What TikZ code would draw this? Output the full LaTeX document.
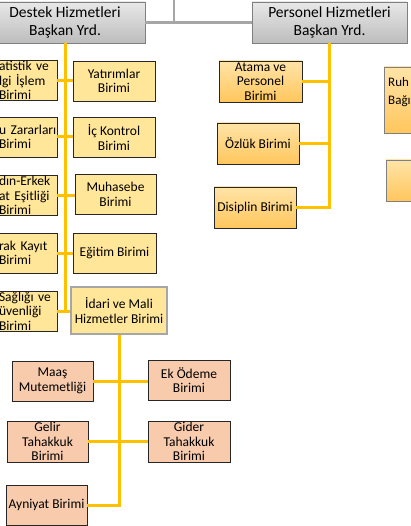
\documentclass[tikz,border=0pt]{standalone}
\usepackage{fontspec}
\setmainfont{Carlito}
\definecolor{destekfill}{HTML}{FFE699}
\definecolor{ptop}{HTML}{FFE4A8}
\definecolor{pbot}{HTML}{FFC65C}
\definecolor{maasfill}{HTML}{F8CBAD}
\definecolor{altin}{HTML}{FFC000}
\definecolor{gricizgi}{HTML}{A6A6A6}
\begin{document}
\begin{tikzpicture}[x=1pt,y=-1pt]

\useasboundingbox (0,0) rectangle (411,526);

\tikzset{%
  baskan/.style={draw=black!50,line width=0.8pt,top color=black!9,bottom color=black!26,
    minimum height=41pt,inner sep=0pt,align=center,font=\fontsize{15.5}{18}\selectfont},
  birim/.style={draw=black!85,line width=0.8pt,inner sep=0pt,minimum height=40pt,
    align=center,font=\fontsize{13.5}{14.5}\selectfont},
  sari/.style={birim,fill=destekfill},
  kesik/.style={sari,minimum width=58pt,text width=58pt,align=left},
  turuncu/.style={birim,top color=ptop,bottom color=pbot,minimum height=41pt},
  pembe/.style={birim,fill=maasfill},
  gri/.style={draw=gricizgi,line width=2.2pt},
  sarihat/.style={draw=altin,line width=3pt},
}

% baskan yardimcilari
\node[baskan,minimum width=160pt] (destek) at (65,22.5) {Destek Hizmetleri\\Başkan Yrd.};
\node[baskan,minimum width=155pt] (personel) at (329.5,22.5) {Personel Hizmetleri\\Başkan Yrd.};

\coordinate (ust) at (174,-3);
\draw[gri] (destek.east) -- (personel.west);
\draw[gri] (ust) -- (ust |- destek.east);

% destek hizmetleri
\node[kesik] (istatistik) at (28,80.5) {atistik ve\\lgi İşlem\\Birimi};
\node[kesik] (zarar) at (28,137) {u Zararları\\Birimi};
\node[kesik] (firsat) at (28,195.5) {dın-Erkek\\at Eşitliği\\Birimi};
\node[kesik] (evrak) at (28,253) {rak Kayıt\\Birimi};
\node[kesik] (isg) at (28,311) {Sağlığı ve\\üvenliği\\Birimi};

\node[sari,minimum width=82pt] (yatirim) at (114,81) {Yatırımlar\\Birimi};
\node[sari,minimum width=82pt] (ickontrol) at (114,137.5) {İç Kontrol\\Birimi};
\node[sari,minimum width=81pt] (muhasebe) at (115.5,194.5) {Muhasebe\\Birimi};
\node[sari,minimum width=83pt] (egitim) at (114.5,253) {Eğitim Birimi};
\node[sari,draw=black!35,line width=1.5pt,minimum width=96pt,minimum height=47pt] (idari) at (119,310.5) {İdari ve Mali\\Hizmetler Birimi};

\draw[sarihat] (destek.south) -- (destek.south |- isg.east);
\draw[sarihat] (istatistik.east) -- (istatistik.east -| yatirim.west);
\draw[sarihat] (zarar.east) -- (zarar.east -| ickontrol.west);
\draw[sarihat] (firsat.east) -- (firsat.east -| muhasebe.west);
\draw[sarihat] (evrak.east) -- (evrak.east -| egitim.west);
\draw[sarihat] (isg.east) -- (isg.east -| idari.west);

% personel hizmetleri
\node[turuncu,minimum width=83pt] (atama) at (260.5,81.5) {Atama ve\\Personel\\Birimi};
\node[turuncu,minimum width=82pt] (ozluk) at (258,143.5) {Özlük Birimi};
\node[turuncu,minimum width=82pt] (disiplin) at (255,207.5) {Disiplin Birimi};

\draw[sarihat] (personel.south) -- (personel.south |- disiplin.east) -- (disiplin.east);
\draw[sarihat] (atama.east) -- (atama.east -| personel.south);
\draw[sarihat] (ozluk.east) -- (ozluk.east -| personel.south);

\node[turuncu,draw=black!50,minimum width=50pt,minimum height=66pt] (ruh) at (409,100) {};
\node[anchor=west,inner sep=0pt,align=left,font=\fontsize{13}{18}\selectfont] (ruhyazi) at (388,92) {Ruh\\Bağı};
\node[turuncu,draw=black!50,minimum width=50pt] (sagkutu) at (411,180.5) {};

% idari ve mali hizmetler
\node[pembe,minimum width=81pt] (maas) at (52.5,381) {Maaş\\Mutemetliği};
\node[pembe,minimum width=82pt] (ekodeme) at (189,380) {Ek Ödeme\\Birimi};
\node[pembe,minimum width=81pt,minimum height=41pt] (gelir) at (47.5,441.5) {Gelir\\Tahakkuk\\Birimi};
\node[pembe,minimum width=82pt,minimum height=41pt] (gider) at (189,441.5) {Gider\\Tahakkuk\\Birimi};
\node[pembe,minimum width=81pt] (ayniyat) at (46.5,505) {Ayniyat Birimi};

\draw[sarihat] (idari.south) -- (idari.south |- ayniyat.east) -- (ayniyat.east);
\draw[sarihat] (maas.east) -- (maas.east -| ekodeme.west);
\draw[sarihat] (gelir.east) -- (gelir.east -| gider.west);

\end{tikzpicture}
\end{document}
